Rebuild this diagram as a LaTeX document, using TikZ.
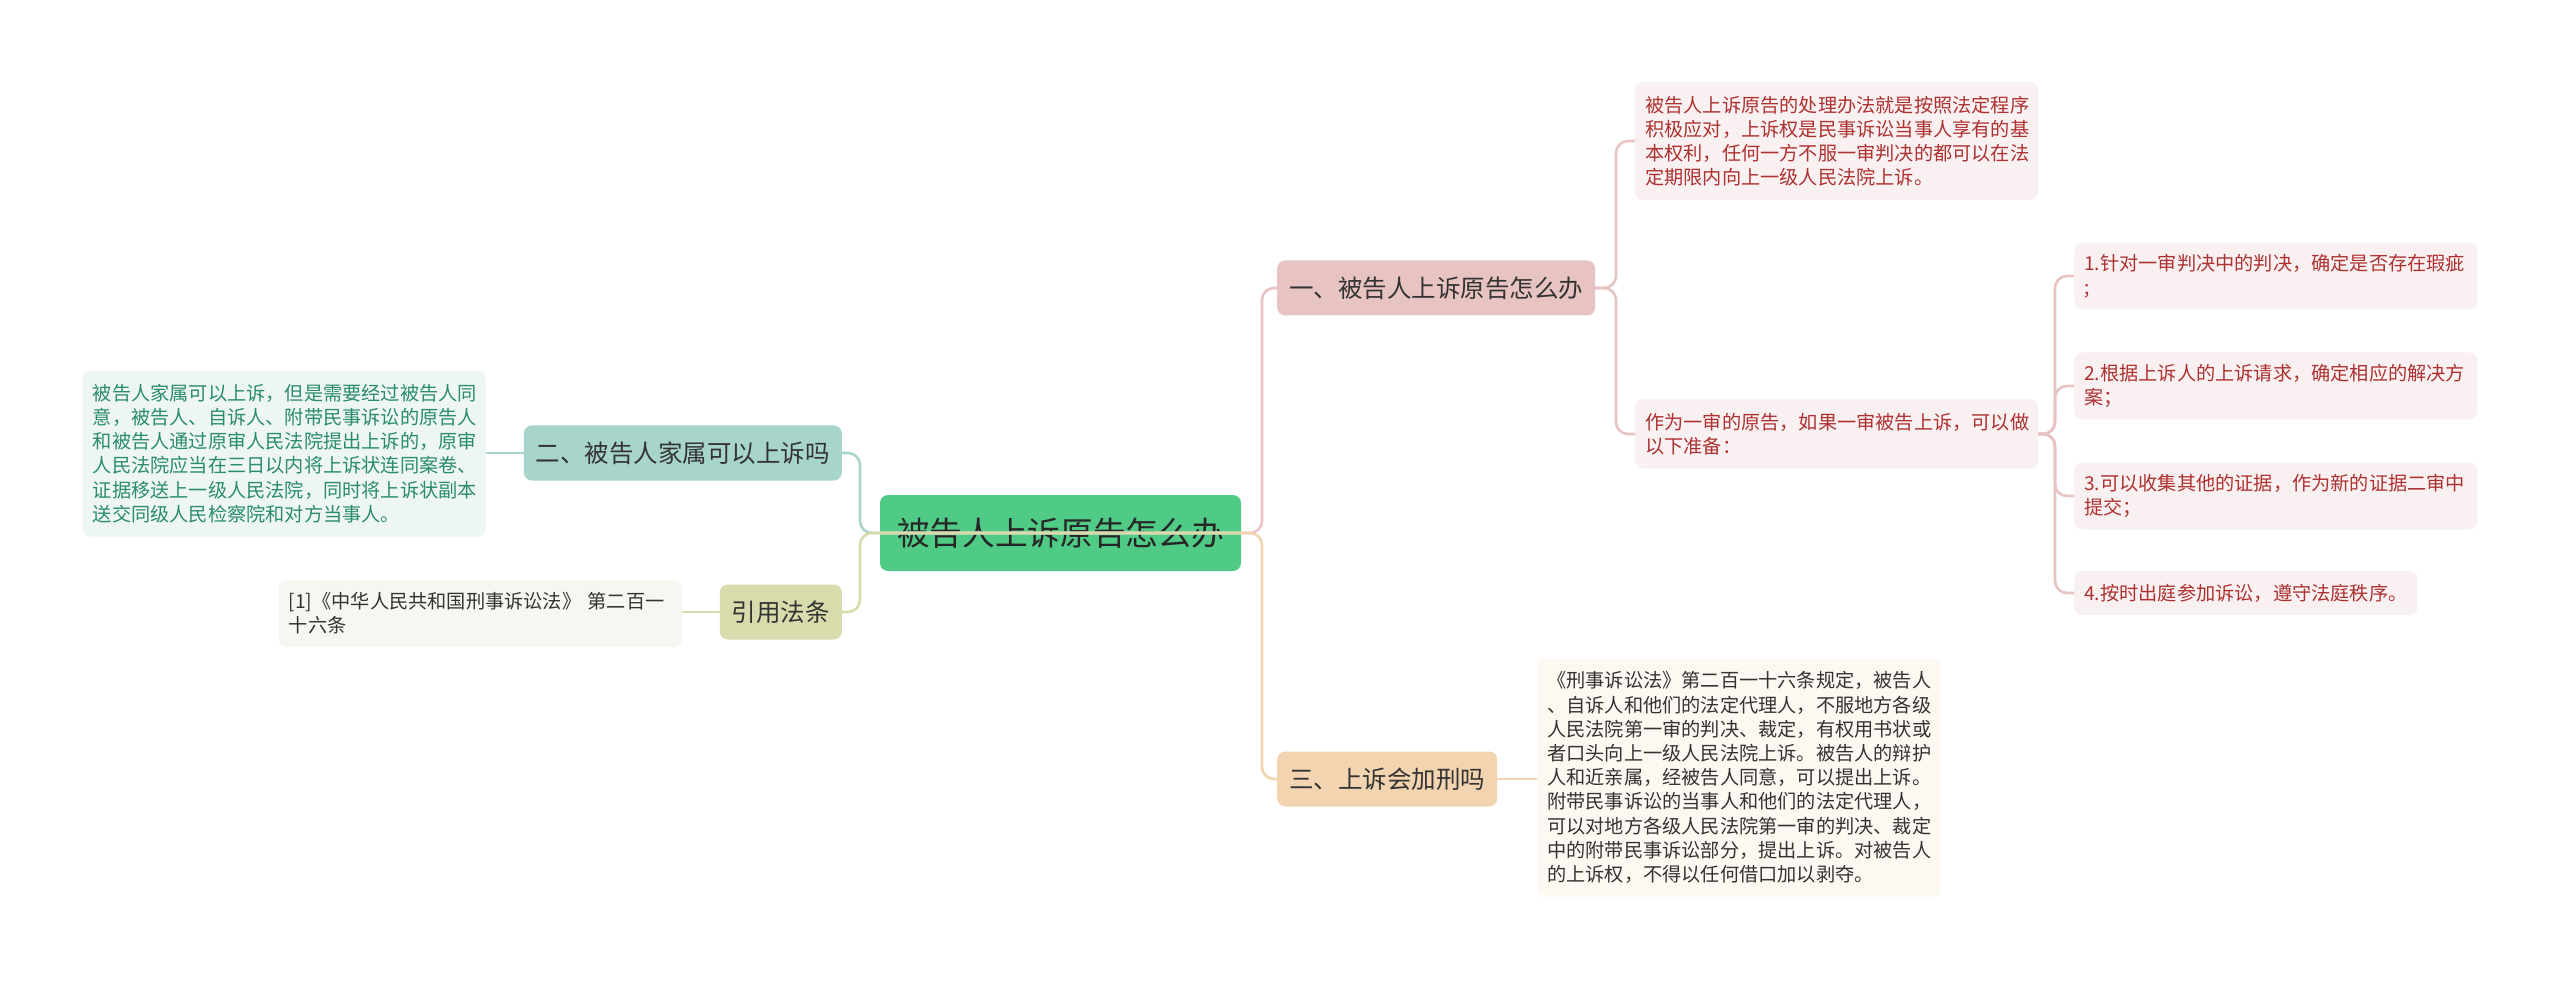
\documentclass[tikz,border=0pt]{standalone}
\usepackage{fontspec}
\newfontfamily\cjk{Noto Sans CJK SC}
\definecolor{rootg}{HTML}{50CB86}
\definecolor{pinkb}{HTML}{E7C3C1}
\definecolor{pinkl}{HTML}{F9F1F1}
\definecolor{redt}{HTML}{AE3131}
\definecolor{tealb}{HTML}{A8D5CB}
\definecolor{teall}{HTML}{EEF6F4}
\definecolor{tealt}{HTML}{2A8C6C}
\definecolor{oliveb}{HTML}{D8DBAB}
\definecolor{olivel}{HTML}{F6F7F0}
\definecolor{tanb}{HTML}{F3D4B0}
\definecolor{tanl}{HTML}{FDF8F1}
\definecolor{darkt}{HTML}{333333}
\begin{document}
\begin{tikzpicture}[x=1pt,y=-1pt,
  rootbox/.style={fill=rootg, rounded corners=8pt, minimum width=361pt, minimum height=76pt, inner sep=0pt, text=black!85, font=\cjk\fontsize{32.7pt}{36pt}\selectfont},
  branchbox/.style={rounded corners=8pt, minimum height=55pt, inner xsep=12pt, inner ysep=0pt, text=darkt, font=\cjk\fontsize{24.5pt}{28pt}\selectfont},
  leafbox/.style={rounded corners=8pt, inner xsep=10pt, inner ysep=0pt, align=left, font=\cjk\fontsize{19.2pt}{24.2pt}\selectfont},
  wide/.style={text width=383pt},
  conn/.style={line width=2.6pt, rounded corners=12pt},
]
\useasboundingbox[fill=white] (0,0) rectangle (2560,981);

% nodes
\node[rootbox] (root) at (1060.5,533) {被告人上诉原告怎么办};

\node[branchbox, fill=pinkb, anchor=west] (b1) at (1277,288) {一、被告人上诉原告怎么办};
\node[branchbox, fill=tealb, anchor=east] (b2) at (842,453) {二、被告人家属可以上诉吗};
\node[branchbox, fill=oliveb, anchor=east] (bref) at (842,612) {引用法条};
\node[branchbox, fill=tanb, anchor=west] (b3) at (1277,779) {三、上诉会加刑吗};

\node[leafbox, wide, fill=pinkl, text=redt, anchor=west, minimum height=117.8pt] (l1a) at (1635,141)
 {被告人上诉原告的处理办法就是按照法定程序\\积极应对，上诉权是民事诉讼当事人享有的基\\本权利，任何一方不服一审判决的都可以在法\\定期限内向上一级人民法院上诉。};
\node[leafbox, wide, fill=pinkl, text=redt, anchor=west, minimum height=69.4pt] (l1b) at (1635,434)
 {作为一审的原告，如果一审被告上诉，可以做\\以下准备：};

\node[leafbox, wide, fill=pinkl, text=redt, anchor=west, minimum height=67pt] (s1) at (2074,276)
 {1.针对一审判决中的判决，确定是否存在瑕疵\\;};
\node[leafbox, wide, fill=pinkl, text=redt, anchor=west, minimum height=67pt] (s2) at (2074,386)
 {2.根据上诉人的上诉请求，确定相应的解决方\\案；};
\node[leafbox, wide, fill=pinkl, text=redt, anchor=west, minimum height=67pt] (s3) at (2074,496)
 {3.可以收集其他的证据，作为新的证据二审中\\提交；};
\node[leafbox, fill=pinkl, text=redt, anchor=west, minimum height=44pt] (s4) at (2074,593)
 {4.按时出庭参加诉讼，遵守法庭秩序。};

\node[leafbox, wide, fill=teall, text=tealt, anchor=east, minimum height=166.2pt] (l2) at (486,453.5)
 {被告人家属可以上诉，但是需要经过被告人同\\意，被告人、自诉人、附带民事诉讼的原告人\\和被告人通过原审人民法院提出上诉的，原审\\人民法院应当在三日以内将上诉状连同案卷、\\证据移送上一级人民法院，同时将上诉状副本\\送交同级人民检察院和对方当事人。};

\node[leafbox, wide, fill=olivel, text=darkt, anchor=east, minimum height=67pt] (lref) at (682,613.5)
 {[1]《中华人民共和国刑事诉讼法》 第二百一\\十六条};

\node[leafbox, wide, fill=tanl, text=darkt, anchor=west, minimum height=238.8pt] (l3) at (1537,777.5)
 {《刑事诉讼法》第二百一十六条规定，被告人\\、自诉人和他们的法定代理人，不服地方各级\\人民法院第一审的判决、裁定，有权用书状或\\者口头向上一级人民法院上诉。被告人的辩护\\人和近亲属，经被告人同意，可以提出上诉。\\附带民事诉讼的当事人和他们的法定代理人，\\可以对地方各级人民法院第一审的判决、裁定\\中的附带民事诉讼部分，提出上诉。对被告人\\的上诉权，不得以任何借口加以剥夺。};

% trunk coordinates
\coordinate (rt) at (1262,533);
\coordinate (lt) at (860,533);
\coordinate (t1) at (1616,288);
\coordinate (t2) at (2055,434);

% connectors (right side)
\draw[conn, draw=pinkb] (root.west) -- (rt) |- (b1.west);
\draw[conn, draw=tanb] (root.west) -- (rt) |- (b3.west);
\draw[conn, draw=pinkb] (b1.east) -- (t1) |- (l1a.west);
\draw[conn, draw=pinkb] (b1.east) -- (t1) |- (l1b.west);
\draw[conn, draw=pinkb] (l1b.east) -- (t2) |- (s1.west);
\draw[conn, draw=pinkb] (l1b.east) -- (t2) |- (s2.west);
\draw[conn, draw=pinkb] (l1b.east) -- (t2) |- (s3.west);
\draw[conn, draw=pinkb] (l1b.east) -- (t2) |- (s4.west);
\draw[conn, draw=tanb] (b3.east) -- (b3.east -| l3.west);

% connectors (left side)
\draw[conn, draw=tealb] (root.east) -- (lt) |- (b2.east);
\draw[conn, draw=oliveb] (root.east) -- (lt) |- (bref.east);
\draw[conn, draw=tealb] (b2.west) -- (b2.west -| l2.east);
\draw[conn, draw=oliveb] (bref.west) -- (bref.west -| lref.east);
\end{tikzpicture}
\end{document}
